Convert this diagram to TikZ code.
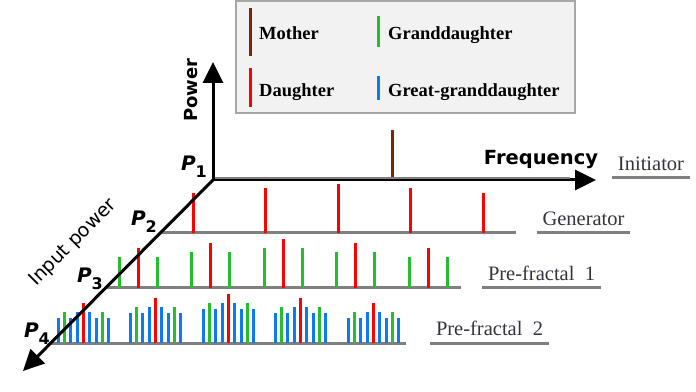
\documentclass[tikz,border=0pt]{standalone}
\usepackage{fontspec}
\setmainfont{Liberation Serif}
\newfontfamily\axisfont{DejaVu Sans}
\usetikzlibrary{arrows.meta,calc}
\definecolor{mother}{RGB}{122,38,14}
\definecolor{daughter}{RGB}{255,0,0}
\definecolor{granddaughter}{RGB}{36,190,46}
\definecolor{greatgrand}{RGB}{12,122,240}
\definecolor{levelgray}{RGB}{128,128,128}
\definecolor{labelgray}{RGB}{52,52,62}
\definecolor{keyfill}{RGB}{242,242,242}
\definecolor{keyframe}{RGB}{166,166,166}
\newcommand{\plab}[1]{\axisfont\bfseries\fontsize{20}{20}\selectfont\itshape P\upshape\fontsize{16}{16}\selectfont\raisebox{-7pt}{#1}}

\begin{document}
\begin{tikzpicture}[x=1pt,y=1pt,>={Triangle[length=21pt,width=20pt]},
                    spike/.style={line width=3pt},
                    level line/.style={draw=levelgray,line width=3pt},
                    axis line/.style={->,line width=3pt},
                    axis label/.style={font=\axisfont\bfseries\fontsize{19.5}{20}\selectfont},
                    p label/.style={anchor=south east,inner sep=0pt},
                    key text/.style={anchor=base west,inner sep=0pt,font=\bfseries\fontsize{18.5}{20}\selectfont},
                    level label/.style={anchor=south,text=labelgray,text depth=0pt,inner xsep=5.5pt,
                                        inner ysep=7pt,font=\fontsize{20.5}{22}\selectfont}]
  \useasboundingbox (0,0) rectangle (696,391);
  \draw[draw=keyframe,fill=keyfill,line width=1.5pt] (236,278) rectangle (575,390);
  \draw[spike,mother] (250,335) -- (250,383);
  \draw[spike,daughter] (250,284) -- (250,323);
  \draw[spike,granddaughter] (378,344) -- (378,375);
  \draw[spike,greatgrand] (378,291) -- (378,315);
  \node[key text] (kmother) at (259,351) {Mother};
  \node[key text] (kdaughter) at (259,294) {Daughter};
  \node[key text] (kgrand) at (388,351) {Granddaughter};
  \node[key text] (kgreat) at (388,294) {Great-granddaughter};

  \coordinate (O) at (213,211);
  \foreach \k in {0,...,3}
    \coordinate (L\k) at (215-55*\k,213-55*\k);
  \foreach \k in {1,2,3}
    \draw[level line] (L\k) -- ++(356,0);
  \draw[spike,mother] ($(L0)+(177,0)$) -- ++(0,48);
  \foreach \i/\h in {0/40,1/44.5,2/49,3/44.5,4/40} {
    \pgfmathsetmacro{\c}{33+72.5*\i}
    \draw[spike,daughter] ($(L1)+(\c,0)$) -- ++(0,\h);
    \foreach \d in {-19,19}
      \draw[spike,granddaughter] ($(L2)+(\c+\d,0)$) -- ++(0,\h-9);
    \draw[spike,daughter] ($(L2)+(\c,0)$) -- ++(0,\h);
    \foreach \d in {-25,-13,13,25}
      \draw[spike,greatgrand] ($(L3)+(\c+\d,0)$) -- ++(0,\h-15);
    \foreach \d in {-6,6}
      \draw[spike,greatgrand] ($(L3)+(\c+\d,0)$) -- ++(0,\h-9);
    \foreach \d in {-19,19}
      \draw[spike,granddaughter] ($(L3)+(\c+\d,0)$) -- ++(0,\h-9);
    \draw[spike,daughter] ($(L3)+(\c,0)$) -- ++(0,\h);
  }

  \coordinate (Ptop) at (213,329);
  \coordinate (Fend) at (596,211);
  \coordinate (Iend) at (23,20);
  \draw[axis line] (O) -- (Ptop);
  \draw[axis line] (O) -- (Fend);
  \draw[axis line] (O) -- (Iend);
  \draw[levelgray,line width=2pt] (L0) -- ++(355,0);

  \node[axis label,rotate=90,anchor=base,font=\axisfont\bfseries\fontsize{18}{18}\selectfont] (power) at (197,301) {Power};
  \node[axis label,anchor=base] (freq) at (541,226) {Frequency};
  \node[rotate=45,inner sep=0pt,font=\axisfont\fontsize{19}{20}\selectfont] (input) at (73,148) {Input power};
  \node[p label] (p1) at (207,213) {\plab{1}};
  \node[p label] (p2) at (157,158) {\plab{2}};
  \node[p label] (p3) at (103,101) {\plab{3}};
  \node[p label] (p4) at (50,46) {\plab{4}};

  \node[level label] (init) at (651,213) {Initiator};
  \node[level label] (gen) at (583.5,158) {Generator};
  \node[level label] (pf1) at (541.5,103) {Pre-fractal\ \ 1};
  \node[level label] (pf2) at (489.5,48) {Pre-fractal\ \ 2};
  \foreach \n in {init,gen,pf1,pf2}
    \draw[level line] (\n.south west) -- (\n.south east);
\end{tikzpicture}
\end{document}
